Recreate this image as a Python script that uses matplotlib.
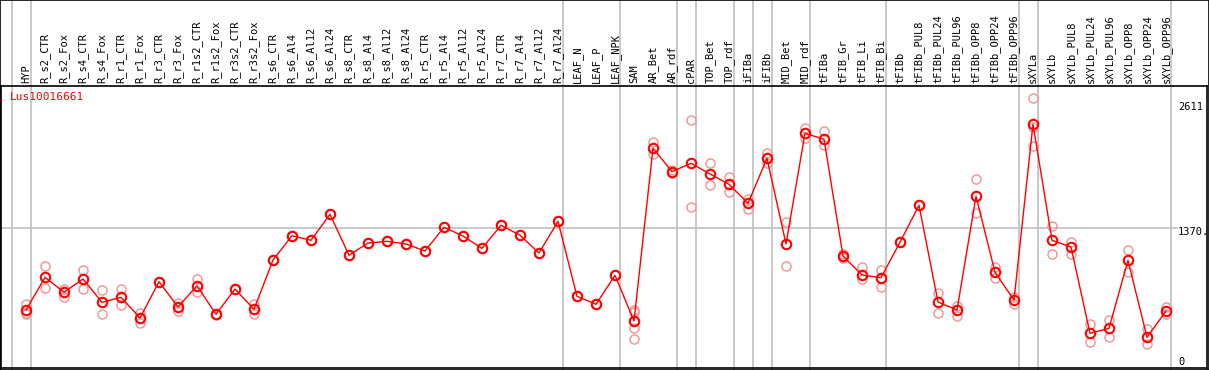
import numpy as np
import matplotlib.pyplot as plt

gene = "Lus10016661"

labels = ["HYP", "R_s2_CTR", "R_s2_Fox", "R_s4_CTR", "R_s4_Fox", "R_r1_CTR", "R_r1_Fox",
          "R_r3_CTR", "R_r3_Fox", "R_r1s2_CTR", "R_r1s2_Fox", "R_r3s2_CTR", "R_r3s2_Fox",
          "R_s6_CTR", "R_s6_Al4", "R_s6_Al12", "R_s6_Al24", "R_s8_CTR", "R_s8_Al4", "R_s8_Al12",
          "R_s8_Al24", "R_r5_CTR", "R_r5_Al4", "R_r5_Al12", "R_r5_Al24", "R_r7_CTR", "R_r7_Al4",
          "R_r7_Al12", "R_r7_Al24", "LEAF_N", "LEAF_P", "LEAF_NPK", "SAM", "AR_Bet", "AR_rdf",
          "cPAR", "TOP_Bet", "TOP_rdf", "iFIBa", "iFIBb", "MID_Bet", "MID_rdf", "tFIBa",
          "tFIB_Gr", "tFIB_Li", "tFIB_Bi", "tFIBb", "tFIBb_PUL8", "tFIBb_PUL24", "tFIBb_PUL96",
          "tFIBb_OPP8", "tFIBb_OPP24", "tFIBb_OPP96", "sXYLa", "sXYLb", "sXYLb_PUL8",
          "sXYLb_PUL24", "sXYLb_PUL96", "sXYLb_OPP8", "sXYLb_OPP24", "sXYLb_OPP96"]

means = [506, 851, 693, 833, 587, 640, 422, 804, 538, 762, 461, 727, 513,
         1033, 1289, 1241, 1515, 1083, 1212, 1230, 1202, 1128, 1378, 1286, 1156, 1399, 1294, 1107, 1441,
         650, 566, 872, 390,
         2211, 1964, 2053, 1940, 1831, 1631, 2105, 1202, 2369, 2306, 1075, 875, 847,
         1220, 1610, 590, 506, 1705, 903, 611,
         2464, 1241, 1170, 260, 313, 1030, 218, 495]

reps = [[569, 478, 464], [967, 735], [727, 646], [928, 727], [717, 461], [727, 562],
        [471, 366], [804, 804], [577, 499], [836, 693], [455, 467], [727, 727], [566, 461],
        [1033, 1033], [1289, 1289], [1241, 1241], [1515, 1515], [1083, 1083], [1212, 1212],
        [1230, 1230], [1202, 1202], [1128, 1128], [1378, 1378], [1286, 1286], [1156, 1156],
        [1399, 1399], [1294, 1294], [1107, 1107], [1441, 1441], [650, 650], [566, 566],
        [872, 872], [506, 488, 319, 197], [2274, 2151], [1947, 1982], [2506, 1589],
        [2053, 1821], [1905, 1747], [1676, 1574], [2161, 2059], [1434, 967], [2428, 2319],
        [2390, 2242], [1051, 1100], [959, 833], [925, 748], [1220, 1220], [1610, 1610],
        [685, 478], [548, 446], [1887, 1525], [962, 840], [640, 572], [2738, 2438, 2235],
        [1392, 1093], [1223, 1100], [355, 166], [401, 225], [1135, 907], [303, 144], [534, 464]]

group_ends = [-1, 0, 28, 31, 34, 35, 37, 38, 39, 41, 45, 52, 53, 60]
right_ticks = ["2611", "1370.", "0"]

W, H = 1209, 370
font = "DejaVu Sans Mono"


def px2x(p):
    return (p - 26) / 19.0


def px2v(p):
    return (358 - p) * 10.542


fig = plt.figure(figsize=(W / 100, H / 100), dpi=100)

# background: header + group separators
bg = fig.add_axes([0, 0, 1, 1])
bg.set_xlim(px2x(0), px2x(W))
bg.set_ylim(H, 0)
bg.set_xticks([])
bg.set_yticks([])
for s in bg.spines.values():
    s.set_color("black")
    s.set_linewidth(1.2)
for g in group_ends:
    bg.axvline(g + 0.237, color="#c0c0c0", lw=1.2)
for i, lab in enumerate(labels):
    bg.text(i, 83, lab, rotation=90, ha="center", va="bottom", fontsize=7.5,
            family=font, color="black")
bg.text(px2x(10), 97, gene, ha="left", va="center", fontsize=8, family=font, color="red")

# data area
ax = fig.add_axes([1 / W, (H - 368) / H, 1206 / W, (368 - 86) / H])
ax.patch.set_alpha(0)
ax.set_xlim(px2x(1), px2x(1207))
ax.set_ylim(px2v(368), px2v(86))
ax.set_xticks([])
ax.set_yticks([])
for s in ax.spines.values():
    s.set_color("black")
    s.set_linewidth(1.2)

ax.plot([px2x(1), px2x(1177)], [1370.5, 1370.5], color="#c0c0c0", lw=1.2)

for i, r in enumerate(reps):
    ax.plot([i] * len(r), r, "o", mfc="none", mec="#f09a9a", ms=6.5, mew=1.1, zorder=2)
ax.plot(range(len(means)), means, "-", color="red", lw=1, marker="o", mfc="none",
        mec="red", ms=6.8, mew=1.5, zorder=3)

for txt, p in zip(right_ticks, [107, 232, 362]):
    ax.text(px2x(1178), px2v(p), txt, ha="left", va="center", fontsize=7.5,
            family=font, color="black", clip_on=True)

fig.savefig("out.png", dpi=100)
